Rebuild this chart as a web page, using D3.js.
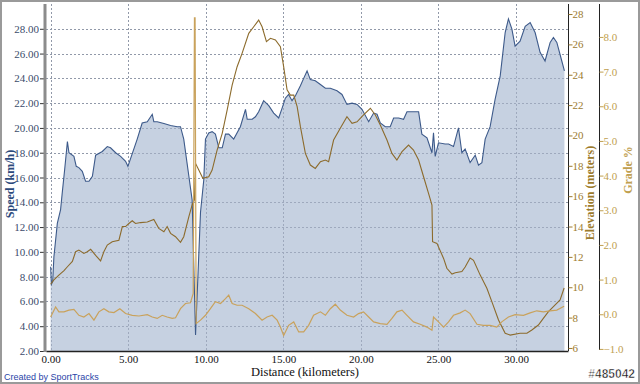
<!DOCTYPE html>
<html>
<head>
<meta charset="utf-8">
<script src="https://cdn.jsdelivr.net/npm/d3@7"></script>
<style>
  body { margin: 0; background: #fff; }
  svg { display: block; }
</style>
</head>
<body>
<svg id="chart" width="640" height="384"></svg>
<script>
// speed (km/h) against distance (km)
const speedKm = [0.00,0.05,0.13,0.21,0.43,0.64,0.75,0.90,1.08,1.18,1.50,1.65,1.82,2.04,2.25,2.47,2.69,2.90,3.33,3.65,3.86,4.19,4.51,4.83,4.98,5.58,5.90,6.23,6.55,6.65,6.87,7.30,7.73,8.16,8.37,8.58,8.91,9.12,9.34,9.66,9.87,9.98,10.19,10.41,10.62,10.84,11.06,11.27,11.48,11.80,12.23,12.56,12.67,12.99,13.20,13.41,13.73,14.06,14.38,14.70,14.92,15.13,15.34,15.56,15.78,16.10,16.31,16.53,16.74,17.06,17.39,17.71,18.03,18.46,18.78,19.10,19.43,19.75,20.07,20.50,20.82,21.04,21.25,21.57,21.89,22.11,22.43,22.75,22.97,23.39,23.72,23.93,24.26,24.58,24.68,24.79,25.00,25.43,25.65,25.97,26.29,26.51,26.72,27.04,27.37,27.58,27.80,28.01,28.33,28.65,28.98,29.30,29.51,29.73,29.94,30.26,30.59,30.91,31.23,31.55,31.87,32.20,32.41,32.63,32.95,33.12]
const speedVal = [8.8,7.4,7.6,9.6,12.3,13.4,14.8,16.6,18.9,18.0,17.7,16.9,16.8,16.5,15.7,15.7,16.1,17.8,18.1,18.5,18.4,18.0,17.7,17.3,16.9,19.1,20.4,20.5,21.1,20.5,20.5,20.35,20.2,20.1,20.1,19.1,16.1,14.2,3.3,13.2,15.8,19.1,19.6,19.7,19.5,18.4,18.4,19.5,19.5,19.1,20.1,21.5,20.7,20.7,20.9,21.3,22.2,21.8,21.2,20.8,21.6,22.4,22.7,22.2,22.6,23.4,24.0,24.6,23.9,23.8,23.5,23.2,23.2,23.0,22.7,21.9,22.0,21.9,21.5,20.5,21.2,21.1,20.4,20.1,20.1,20.8,20.8,20.7,21.3,21.3,21.3,19.5,19.2,18.0,19.6,17.7,18.8,18.7,18.7,18.5,20.0,18.0,18.3,17.2,17.8,17.0,17.2,19.1,20.1,22.3,24.2,27.7,28.8,28.0,26.6,27.0,28.2,28.5,27.7,26.1,25.4,26.9,27.3,26.9,25.4,24.6]

// elevation (m)
const elevKm = [0.00,0.21,0.53,0.86,1.08,1.40,1.61,1.82,2.14,2.36,2.58,2.90,3.22,3.43,3.65,3.97,4.40,4.62,4.83,5.04,5.26,5.47,5.80,6.23,6.65,6.97,7.30,7.51,7.73,8.05,8.37,8.58,8.91,9.12,9.27,9.34,9.55,9.81,10.19,10.41,10.73,11.06,11.38,11.70,12.02,12.34,12.77,13.09,13.41,13.63,13.91,14.17,14.49,14.81,15.02,15.24,15.45,15.67,15.89,16.10,16.42,16.74,17.06,17.39,17.71,17.92,18.24,18.67,19.10,19.43,19.75,20.17,20.61,20.93,21.25,21.68,22.00,22.32,22.65,23.07,23.39,23.72,24.04,24.36,24.58,24.62,24.90,25.33,25.54,25.87,26.08,26.51,26.72,27.04,27.26,27.69,28.12,28.44,28.87,29.30,29.62,30.26,30.70,31.02,31.44,31.76,32.09,32.41,32.84,33.10]
const elevVal = [10.2,10.48,10.8,11.1,11.35,11.7,12.34,12.45,12.23,12.34,12.5,12.1,11.73,12.34,12.78,13.0,13.1,14.0,14.0,14.2,14.38,14.2,14.26,14.3,14.47,13.88,13.66,14.0,13.55,13.33,12.96,13.33,14.65,15.42,15.75,18.16,17.72,17.18,17.28,17.72,19.04,20.14,21.68,23.32,24.53,25.41,26.73,27.16,27.6,27.16,26.18,26.4,26.29,25.85,24.53,23.0,22.66,22.66,21.9,20.58,18.82,18.05,17.83,18.27,18.38,18.27,19.7,20.47,21.23,20.8,20.9,21.35,21.79,21.35,20.69,19.7,18.82,18.38,18.93,19.37,19.04,18.38,17.28,16.19,15.42,13.0,12.89,11.9,11.25,10.87,10.96,11.04,11.33,11.92,11.77,10.8,9.93,9.05,7.84,6.97,6.85,6.97,6.97,7.18,7.51,7.95,8.39,8.72,9.16,9.95]

// grade (%)
const gradeKm = [0.00,0.32,0.53,0.86,1.18,1.50,1.82,2.14,2.47,2.79,3.11,3.43,3.75,4.08,4.46,4.83,5.26,5.69,6.23,6.55,6.87,7.19,7.51,7.84,8.05,8.37,8.69,9.01,9.19,9.27,9.31,9.38,9.66,9.98,10.30,10.62,10.95,11.27,11.48,11.70,12.02,12.34,12.77,13.20,13.63,13.95,14.28,14.60,14.81,15.02,15.34,15.67,15.99,16.31,16.63,16.95,17.39,17.71,18.03,18.35,18.67,19.10,19.53,19.85,20.17,20.50,20.82,21.25,21.68,22.00,22.32,22.65,22.97,23.39,23.82,24.26,24.58,24.68,25.00,25.33,25.65,25.97,26.40,26.72,27.04,27.48,27.90,28.33,28.76,29.08,29.51,29.94,30.48,30.91,31.34,31.76,32.20,32.63,33.10]
const gradeVal = [-0.08,0.21,0.07,0.07,0.12,0.14,-0.03,-0.08,0.02,-0.17,0.07,0.16,0.07,0.05,0.16,0.02,-0.03,-0.05,-0.01,-0.08,-0.12,-0.03,-0.08,-0.12,-0.10,0.16,0.31,0.33,0.6,8.55,8.55,-0.27,-0.17,-0.03,0.16,0.36,0.31,0.45,0.55,0.31,0.26,0.26,0.16,0.02,-0.17,-0.08,-0.03,-0.17,-0.37,-0.61,-0.32,-0.22,-0.51,-0.51,-0.32,-0.03,0.07,-0.03,0.16,0.29,0.12,-0.03,-0.08,0.02,0.07,-0.08,-0.22,-0.27,-0.29,-0.12,0.07,0.12,-0.03,-0.22,-0.29,-0.37,-0.46,-0.08,-0.22,-0.37,-0.22,-0.03,0.04,0.12,0.02,-0.29,-0.32,-0.32,-0.37,-0.22,-0.08,-0.01,-0.03,0.04,0.10,0.07,0.10,0.12,0.23]

const distTicks = [0, 5, 10, 15, 20, 25, 30]
const speedTicks = [2, 4, 6, 8, 10, 12, 14, 16, 18, 20, 22, 24, 26, 28]
const elevTicks = [6, 8, 10, 12, 14, 16, 18, 20, 22, 24, 26, 28]
const gradeTicks = [-1, 0, 1, 2, 3, 4, 5, 6, 7, 8]

const speed = speedKm.map((d, i) => ({ x: d, y: speedVal[i] }))
const elev = elevKm.map((d, i) => ({ x: d, y: elevVal[i] }))
const grade = gradeKm.map((d, i) => ({ x: d, y: gradeVal[i] }))

const plotL = 46, plotR = 568, plotT = 4, plotB = 351
const serif = '"Liberation Serif", "DejaVu Serif", serif'

const svg = d3.select('#chart')

const x = d3.scaleLinear().domain([-0.3, 33.35]).range([plotL, plotR])
const yS = d3.scaleLinear().domain([2, 30]).range([plotB, plotT])
const yE = d3.scaleLinear().domain([5.8, 28.66]).range([plotB, plotT])
const yG = d3.scaleLinear().domain([-1.06, 8.95]).range([plotB, plotT])

// grid under the fill
function drawGrid(color) {
  const g = svg.append('g')
    .attr('stroke', color)
    .attr('stroke-width', 1)
    .attr('stroke-dasharray', '2,2')
  g.selectAll('line.h').data(speedTicks.slice(1)).join('line').attr('class', 'h')
    .attr('x1', plotL).attr('x2', plotR)
    .attr('y1', d => Math.round(yS(d)) + 0.5).attr('y2', d => Math.round(yS(d)) + 0.5)
  g.selectAll('line.v').data(distTicks).join('line').attr('class', 'v')
    .attr('y1', plotT).attr('y2', plotB)
    .attr('x1', d => Math.round(x(d)) + 0.5).attr('x2', d => Math.round(x(d)) + 0.5)
  return g
}
drawGrid('#a4a8b0')

// speed area
svg.append('path').datum(speed)
  .attr('fill', '#c6d1e1')
  .attr('d', d3.area().x(d => x(d.x)).y0(yS(2)).y1(d => yS(d.y)))

// grid shows through the fill in the reference
drawGrid('#8590a6').attr('opacity', 0.6)

svg.append('path').datum(speed)
  .attr('fill', 'none').attr('stroke', '#3d5a8a').attr('stroke-width', 1.1)
  .attr('d', d3.line().x(d => x(d.x)).y(d => yS(d.y)))

svg.append('path').datum(elev)
  .attr('fill', 'none').attr('stroke', '#8c6b2c').attr('stroke-width', 1.1)
  .attr('d', d3.line().x(d => x(d.x)).y(d => yE(d.y)))

svg.append('path').datum(grade)
  .attr('fill', 'none').attr('stroke', '#c9a25c').attr('stroke-width', 1.2)
  .attr('d', d3.line().x(d => x(d.x)).y(d => yG(d.y)))

// axes
const axL = svg.append('g').attr('transform', `translate(${plotL - 2},0)`)
  .call(d3.axisLeft(yS).tickValues(speedTicks).tickFormat(d3.format('.2f')).tickSize(4).tickPadding(1))
axL.select('.domain').remove()
axL.selectAll('line').attr('stroke', '#333')
axL.selectAll('text').attr('fill', '#3b4b6b').attr('font-family', serif).attr('font-size', 11)
svg.append('line').attr('x1', plotL - 1).attr('x2', plotL - 1).attr('y1', plotT).attr('y2', plotB + 1)
  .attr('stroke', '#8c8c8c').attr('stroke-width', 3)

const axB = svg.append('g').attr('transform', `translate(0,${plotB})`)
  .call(d3.axisBottom(x).tickValues(distTicks).tickFormat(d3.format('.2f')).tickSize(0).tickPadding(4))
axB.select('.domain').attr('stroke', '#222').attr('stroke-width', 1.5)
axB.selectAll('text').attr('fill', '#111').attr('font-family', serif).attr('font-size', 11)

const axE = svg.append('g').attr('transform', `translate(${plotR + 0.5},0)`)
  .call(d3.axisRight(yE).tickValues(elevTicks).tickFormat(d3.format('d')).tickSize(4).tickPadding(0))
axE.select('.domain').attr('stroke', '#222').attr('d', `M0,${plotT}V${plotB}`)
axE.selectAll('line').attr('stroke', '#9c7b30')
axE.selectAll('text').attr('fill', '#9c7b30').attr('font-family', serif).attr('font-size', 11)

const axG = svg.append('g').attr('transform', 'translate(599.5,0)')
  .call(d3.axisRight(yG).tickValues(gradeTicks).tickFormat(d3.format('.1f')).tickSize(4).tickPadding(0))
axG.select('.domain').attr('stroke', '#222').attr('d', `M0,${plotT}V${plotB - 1}`)
axG.selectAll('line').attr('stroke', '#c0a050')
axG.selectAll('text').attr('fill', '#c0a050').attr('font-family', serif).attr('font-size', 11)

// titles
svg.append('text').attr('transform', 'translate(14,184) rotate(-90)')
  .attr('text-anchor', 'middle').attr('fill', '#2c4a7c').attr('font-family', serif)
  .attr('font-weight', 'bold').attr('font-size', 12).text('Speed (km/h)')
svg.append('text').attr('transform', 'translate(594,193) rotate(-90)')
  .attr('text-anchor', 'middle').attr('fill', '#9c7b2c').attr('font-family', serif)
  .attr('font-weight', 'bold').attr('font-size', 12).text('Elevation (meters)')
svg.append('text').attr('transform', 'translate(632,170) rotate(-90)')
  .attr('text-anchor', 'middle').attr('fill', '#c0a050').attr('font-family', serif)
  .attr('font-weight', 'bold').attr('font-size', 12).text('Grade %')
svg.append('text').attr('x', 305).attr('y', 376)
  .attr('text-anchor', 'middle').attr('fill', '#111').attr('font-family', serif)
  .attr('font-size', 12.5).text('Distance (kilometers)')

svg.append('text').attr('x', 4).attr('y', 380)
  .attr('fill', '#2a44a8').attr('font-family', 'Arial, "Liberation Sans", sans-serif')
  .attr('font-size', 9).text('Created by SportTracks')
svg.append('text').attr('x', 635).attr('y', 378)
  .attr('text-anchor', 'end').attr('fill', '#111').attr('stroke', '#fff').attr('stroke-width', 0.5)
  .attr('font-family', '"Liberation Sans", sans-serif')
  .attr('font-weight', 'bold').attr('font-size', 12).text('#485042')

// outer frame
svg.append('rect').attr('x', 1).attr('y', 1).attr('width', 638).attr('height', 382)
  .attr('fill', 'none').attr('stroke', '#9a9a9a').attr('stroke-width', 2)
</script>
</body>
</html>
